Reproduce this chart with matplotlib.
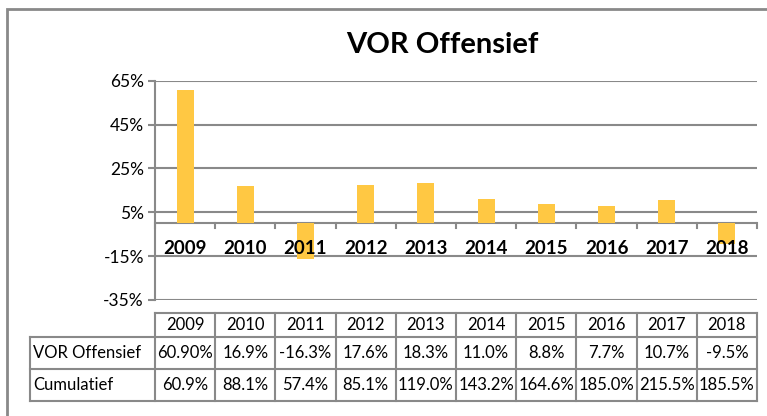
import numpy as np
import matplotlib.pyplot as plt
import matplotlib.transforms as mtransforms
from matplotlib.patches import Rectangle

# === DATA ===
years = ["2009", "2010", "2011", "2012", "2013", "2014", "2015", "2016", "2017", "2018"]
vor = [60.9, 16.9, -16.3, 17.6, 18.3, 11.0, 8.8, 7.7, 10.7, -9.5]
vor_labels = ["60.90%", "16.9%", "-16.3%", "17.6%", "18.3%", "11.0%", "8.8%", "7.7%", "10.7%", "-9.5%"]
cumul_labels = ["60.9%", "88.1%", "57.4%", "85.1%", "119.0%", "143.2%", "164.6%", "185.0%", "215.5%", "185.5%"]
yticks = [-35, -15, 5, 25, 45, 65]

plt.rcParams['font.family'] = ['Lato', 'DejaVu Sans']
GREY = "#898989"
GOLD = "#FFC843"

W, H = 767, 416
fig = plt.figure(figsize=(W / 100, H / 100), dpi=100)

# outer chart border
fig.patches.append(Rectangle((7 / W, -0.1), 1.2, 1 - 9 / H + 0.1, transform=fig.transFigure,
                             fill=False, edgecolor=GREY, linewidth=2))

ax = fig.add_axes([155 / W, 1 - 300 / H, (757 - 155) / W, (300 - 80.7) / H])
x = np.arange(len(years))
ax.bar(x, vor, width=0.28, color=GOLD, zorder=3)
ax.set_xlim(-0.5, len(years) - 0.5)
ax.set_ylim(-35, 65)
ax.set_yticks(yticks)
ax.set_yticklabels([f"{t}%" for t in yticks], fontsize=12.5)
ax.set_xticks([])
ax.tick_params(axis="y", length=5, color=GREY, width=1.5, pad=3)
for s in ["top", "right", "bottom"]:
    ax.spines[s].set_visible(False)
ax.spines["left"].set_color(GREY)
ax.spines["left"].set_linewidth(1.5)
ax.grid(axis="y", color=GREY, linewidth=1.5, zorder=0)
ax.set_axisbelow(True)

# zero axis with category tick marks
ax.axhline(0, color=GREY, linewidth=1.5, zorder=2)
for k in range(len(years) + 1):
    ax.plot([k - 0.5, k - 0.5], [0, -2.3], color=GREY, linewidth=1.5, clip_on=False, zorder=2)

for xi, yr in zip(x, years):
    ax.text(xi, -11.3, yr, ha="center", va="center", fontsize=13.5, fontweight="bold", zorder=4)

fig.text(442 / W, 1 - 45 / H, "VOR Offensief", ha="center", va="center",
         fontsize=21, fontweight="bold")

# === DATA TABLE ===
tr = mtransforms.blended_transform_factory(ax.transData, fig.transFigure)
def fy(p):
    return 1 - p / H

rows_y = [313, 337, 369, 401]
label_x = -0.5 - (155 - 30) / 60.2
n = len(years)
lw = 1.5
# horizontal lines
ax.plot([-0.5, n - 0.5], [fy(313)] * 2, transform=tr, color=GREY, lw=lw, clip_on=False)
for yy in rows_y[1:]:
    ax.plot([label_x, n - 0.5], [fy(yy)] * 2, transform=tr, color=GREY, lw=lw, clip_on=False)
# vertical lines
for k in range(n + 1):
    ax.plot([k - 0.5] * 2, [fy(313), fy(401)], transform=tr, color=GREY, lw=lw, clip_on=False)
ax.plot([label_x] * 2, [fy(337), fy(401)], transform=tr, color=GREY, lw=lw, clip_on=False)

fs = 12
for xi in range(n):
    ax.text(xi, fy(325), years[xi], transform=tr, ha="center", va="center", fontsize=fs)
    ax.text(xi, fy(353), vor_labels[xi], transform=tr, ha="center", va="center", fontsize=fs)
    ax.text(xi, fy(385), cumul_labels[xi], transform=tr, ha="center", va="center", fontsize=fs)
ax.text(label_x + 0.05, fy(353), "VOR Offensief", transform=tr, ha="left", va="center", fontsize=fs)
ax.text(label_x + 0.05, fy(385), "Cumulatief", transform=tr, ha="left", va="center", fontsize=fs)

fig.savefig("out.png", dpi=100)
